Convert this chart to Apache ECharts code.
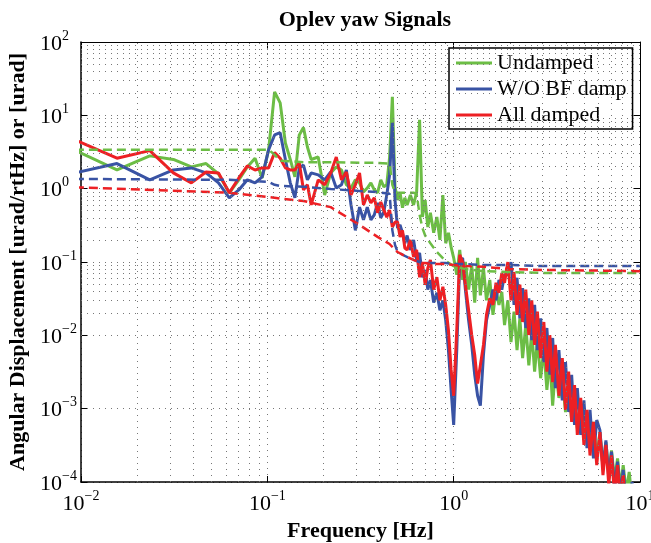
<!DOCTYPE html>
<html>
<head>
<meta charset="utf-8">
<title>Oplev yaw Signals</title>
<script src="https://cdn.jsdelivr.net/npm/echarts@6/dist/echarts.min.js"></script>
<style>
  html, body { margin: 0; padding: 0; background: #fff; }
  #chart { width: 651px; height: 543px; }
</style>
</head>
<body>
<div id="chart"></div>
<script>
// frequency bins [Hz] shared by the three spectra
var freq = [
  0.0078, 0.0156, 0.0234, 0.0313, 0.0391, 0.0469, 0.0547, 0.0625, 0.0703, 0.0781,
  0.0859, 0.0938, 0.1016, 0.1094, 0.1172, 0.125, 0.1328, 0.1406, 0.1484, 0.1563,
  0.1641, 0.1719, 0.1875, 0.2031, 0.2188, 0.2344, 0.25, 0.2656, 0.2813, 0.2969,
  0.3125, 0.3281, 0.3438, 0.3594, 0.375, 0.3906, 0.4063, 0.4219, 0.4375, 0.4531,
  0.4688, 0.4844, 0.5, 0.5156, 0.5313, 0.5469, 0.5625, 0.5859, 0.6094, 0.6328,
  0.6563, 0.6797, 0.7031, 0.7266, 0.75, 0.7813, 0.8125, 0.8438, 0.875, 0.9063,
  0.9375, 0.9688, 1.0, 1.039, 1.078, 1.117, 1.156, 1.203, 1.25, 1.297,
  1.344, 1.391, 1.445, 1.5, 1.563, 1.625, 1.688, 1.75, 1.813, 1.875,
  1.953, 2.031, 2.109, 2.188, 2.266, 2.344, 2.438, 2.531, 2.625, 2.719,
  2.813, 2.93, 3.047, 3.164, 3.281, 3.398, 3.516, 3.672, 3.828, 3.984,
  4.141, 4.297, 4.453, 4.609, 4.805, 5.0, 5.195, 5.391, 5.625, 5.859,
  6.094, 6.328, 6.563, 6.797, 7.031, 7.305, 7.578, 7.852, 8.125, 8.438,
  8.75, 9.063, 9.375, 9.688, 10.0
]

// spectra [urad/rtHz]
var undamped = [
  4.1, 1.8, 2.8, 2.5, 1.98, 2.2, 1.59, 0.88, 1.32, 1.98,
  2.6, 1.4, 3.4, 20.9, 14.8, 4.2, 2.5, 1.45, 5.4, 6.8,
  3.7, 2.5, 2.7, 0.82, 1.64, 1.98, 1.8, 1.13, 1.02, 1.32,
  1.2, 0.9, 1.02, 1.2, 0.96, 0.88, 1.32, 1.06, 1.13, 2.7,
  17.9, 1.06, 0.7, 0.88, 0.55, 0.75, 0.6, 0.82, 0.6, 0.9,
  8.7, 0.41, 0.7, 0.3, 0.47, 0.25, 0.41, 0.2, 0.82, 0.18,
  0.25, 0.16, 0.114, 0.067, 0.146, 0.057, 0.1, 0.042, 0.091, 0.028,
  0.114, 0.035, 0.083, 0.03, 0.057, 0.019, 0.042, 0.026, 0.039, 0.0138,
  0.03, 0.0081, 0.021, 0.0063, 0.017, 0.0049, 0.0138, 0.0039, 0.0111, 0.0032,
  0.0086, 0.0026, 0.0067, 0.0018, 0.0049, 0.0011, 0.0036, 0.0014, 0.0026, 0.0009,
  0.0019, 0.0007, 0.0015, 0.00054, 0.0012, 0.0004, 0.0009, 0.00029, 0.00066, 0.00021,
  0.00048, 0.00016, 0.00035, 0.00013, 0.00027, 0.000106, 0.00021, 0.000083, 0.00017, 0.000073,
  0.000137, 0.000057, 0.000091, 0.000044, 0.00006
]
var woBfDamp = [
  1.49, 2.2, 1.32, 1.8, 1.92, 1.64, 1.2, 0.75, 0.96, 1.32,
  1.2, 1.45, 3.4, 5.4, 5.8, 2.5, 1.2, 0.75, 1.92, 2.1,
  1.32, 1.64, 1.54, 1.32, 1.69, 1.02, 1.13, 1.8, 0.6, 0.27,
  0.56, 0.375, 0.56, 0.375, 0.44, 0.64, 0.4, 0.48, 0.82, 1.54,
  7.9, 0.7, 0.29, 0.32, 0.25, 0.18, 0.23, 0.146, 0.2, 0.107,
  0.133, 0.062, 0.078, 0.042, 0.057, 0.028, 0.038, 0.022, 0.03, 0.016,
  0.0063, 0.0018, 0.0006, 0.0063, 0.1, 0.114, 0.042, 0.016, 0.0074, 0.0029,
  0.0015, 0.0011, 0.0054, 0.016, 0.026, 0.042, 0.03, 0.057, 0.042, 0.067,
  0.067, 0.1, 0.026, 0.061, 0.017, 0.044, 0.0126, 0.032, 0.0086, 0.026,
  0.0063, 0.017, 0.0043, 0.0126, 0.0029, 0.0092, 0.0019, 0.0063, 0.0013, 0.0043,
  0.0009, 0.0029, 0.0006, 0.0019, 0.00044, 0.0013, 0.00029, 0.00096, 0.00021, 0.0007,
  0.00051, 0.000155, 0.00037, 0.000113, 0.00026, 0.000083, 0.00019, 0.000066, 0.000146, 0.000053,
  0.000044, 0.0001, 0.000035, 0.000066, 0.00003
]
var allDamped = [
  5.6, 2.6, 3.3, 1.64, 1.2, 1.69, 1.64, 0.88, 1.4, 2.05,
  1.8, 1.92, 1.92, 3.1, 2.6, 1.92, 1.8, 1.8, 2.25, 0.96,
  1.13, 0.6, 1.32, 1.13, 1.64, 2.7, 1.32, 1.69, 0.82, 1.13,
  1.64, 0.6, 0.82, 0.64, 0.75, 0.47, 0.66, 0.51, 0.41, 0.51,
  0.3, 0.35, 0.35, 0.22, 0.27, 0.155, 0.146, 0.2, 0.117, 0.146,
  0.062, 0.097, 0.049, 0.083, 0.107, 0.042, 0.062, 0.03, 0.046, 0.026,
  0.0118, 0.0034, 0.0015, 0.0118, 0.125, 0.1, 0.049, 0.022, 0.0101, 0.0054,
  0.0022, 0.0039, 0.0074, 0.019, 0.032, 0.026, 0.052, 0.038, 0.071, 0.052,
  0.1, 0.03, 0.073, 0.019, 0.049, 0.0152, 0.042, 0.0101, 0.03, 0.0074,
  0.021, 0.0049, 0.0152, 0.0032, 0.0101, 0.0023, 0.0074, 0.0015, 0.0049, 0.00096,
  0.0032, 0.00066, 0.0021, 0.00044, 0.0014, 0.00032, 0.00096, 0.00023, 0.00066, 0.00017,
  0.00048, 0.000124, 0.00032, 0.000091, 0.00023, 0.000066, 0.00017, 0.000057, 0.000124, 0.000041,
  0.000083, 0.000035, 0.000057, 0.00003, 0.000041
]

// cumulative rms [urad] (dashed)
var rmsFreq = [
  0.0078, 0.0625, 0.1016, 0.1094, 0.1172, 0.1563, 0.2188, 0.3125, 0.3906, 0.4531,
  0.4688, 0.4844, 0.5, 0.5469, 0.6094, 0.6328, 0.6563, 0.6797, 0.7031, 0.75,
  0.8125, 0.9063, 1.0, 1.156, 1.445, 1.953, 3.0, 10.0
]
var rmsUndamped = [
  3.4, 3.4, 3.4, 2.9, 2.4, 2.3, 2.3, 2.25, 2.25, 2.2,
  1.13, 0.88, 0.88, 0.88, 0.88, 0.85, 0.44, 0.29, 0.23, 0.18,
  0.137, 0.103, 0.088, 0.08, 0.075, 0.073, 0.071, 0.071
]
var rmsWoBfDamp = [
  1.36, 1.32, 1.24, 1.13, 1.09, 1.06, 0.99, 0.93, 0.9, 0.85,
  0.27, 0.171, 0.137, 0.121, 0.107, 0.103, 0.1, 0.1, 0.097, 0.097,
  0.097, 0.097, 0.094, 0.094, 0.091, 0.091, 0.088, 0.088
]
var rmsAllDamped = [
  1.06, 0.88, 0.77, 0.75, 0.73, 0.68, 0.56, 0.32, 0.22, 0.176,
  0.16, 0.146, 0.137, 0.121, 0.107, 0.103, 0.1, 0.097, 0.097, 0.094,
  0.094, 0.094, 0.091, 0.088, 0.086, 0.08, 0.078, 0.075
]

var names = ['Undamped', 'W/O BF damp', 'All damped']
var colors = ['#6cbd45', '#3953a4', '#ed2024']
var SERIF = 'Liberation Serif, Times New Roman, serif'

function pairs (xs, ys) {
  return xs.map(function (x, i) { return [x, ys[i]] })
}

// minor grid at 2..9 x 10^k, like matlab's minor grid
function minorGrid (lo, hi) {
  var out = []
  for (var k = lo; k < hi; k++) {
    for (var m = 2; m <= 9; m++) out.push(+(m * Math.pow(10, k)).toPrecision(2))
  }
  return out
}

function powLabel (v) {
  var e = Math.round(Math.log10(v))
  return '{b|10}{e|' + (e < 0 ? '\u2212' + (-e) : e) + '}'
}

var labelRich = {
  b: { fontFamily: SERIF, fontSize: 22, color: '#000', verticalAlign: 'bottom', padding: [4, 0, 0, 0] },
  e: { fontFamily: SERIF, fontSize: 14, color: '#000', verticalAlign: 'top' }
}
var dotted = { type: [1, 5], color: '#777', width: 1 }

function solid (i, data) {
  return {
    name: names[i], type: 'line', data: pairs(freq, data),
    smooth: false, symbol: 'none', showSymbol: false, z: 3,
    lineStyle: { color: colors[i], width: 3 },
    itemStyle: { color: colors[i] }
  }
}
function dashed (i, data) {
  return {
    name: names[i] + ' rms', type: 'line', data: pairs(rmsFreq, data),
    smooth: false, symbol: 'none', showSymbol: false, z: 4,
    lineStyle: { color: colors[i], width: 2.5, type: [9, 5] },
    itemStyle: { color: colors[i] }
  }
}

var gridLines = []
minorGrid(-2, 1).forEach(function (v) { gridLines.push({ xAxis: v }) })
minorGrid(-4, 2).forEach(function (v) { gridLines.push({ yAxis: v }) })

var option = {
  animation: false,
  backgroundColor: '#fff',
  title: {
    text: 'Oplev yaw Signals',
    left: 360, top: 4, textAlign: 'center',
    textStyle: { fontFamily: SERIF, fontSize: 22, fontWeight: 'bold', color: '#000' }
  },
  legend: {
    data: names,
    orient: 'vertical',
    left: 449, top: 48,
    icon: 'rect', itemWidth: 36, itemHeight: 3, itemGap: 4,
    padding: [4, 6, 3, 7],
    backgroundColor: '#fff', borderColor: '#000', borderWidth: 1.5,
    textStyle: { fontFamily: SERIF, fontSize: 22, color: '#000', lineHeight: 22 }
  },
  grid: { left: 81, right: 11, top: 42, bottom: 61, containLabel: false, outerBoundsMode: 'none' },
  xAxis: [{
    type: 'log', logBase: 10, min: 0.01, max: 10, splitNumber: 3,
    position: 'bottom',
    name: 'Frequency [Hz]', nameLocation: 'middle', nameGap: 29,
    nameTextStyle: { fontFamily: SERIF, fontSize: 22, fontWeight: 'bold', color: '#000' },
    axisLine: { lineStyle: { color: '#000', width: 1.5 } },
    axisTick: { inside: true, length: 6, lineStyle: { color: '#000' } },
    axisLabel: { margin: 7, formatter: powLabel, rich: labelRich },
    splitLine: { show: true, lineStyle: dotted }
  }, {
    type: 'log', logBase: 10, min: 0.01, max: 10, splitNumber: 3,
    position: 'top',
    axisLine: { lineStyle: { color: '#000', width: 1 } },
    axisTick: { inside: true, length: 6, lineStyle: { color: '#000' } },
    axisLabel: { show: false },
    splitLine: { show: false }
  }],
  yAxis: [{
    type: 'log', logBase: 10, min: 1e-4, max: 100, splitNumber: 6,
    position: 'left',
    name: 'Angular Displacement [urad/rtHz] or [urad]',
    nameLocation: 'middle', nameGap: 45,
    nameTextStyle: { fontFamily: SERIF, fontSize: 22, fontWeight: 'bold', color: '#000' },
    axisLine: { lineStyle: { color: '#000', width: 1.5 } },
    axisTick: { inside: true, length: 6, lineStyle: { color: '#000' } },
    axisLabel: { margin: 41, align: 'left', formatter: powLabel, rich: labelRich },
    splitLine: { show: true, lineStyle: dotted }
  }, {
    type: 'log', logBase: 10, min: 1e-4, max: 100, splitNumber: 6,
    position: 'right',
    axisLine: { lineStyle: { color: '#000', width: 1 } },
    axisTick: { inside: true, length: 6, lineStyle: { color: '#000' } },
    axisLabel: { show: false },
    splitLine: { show: false }
  }],
  series: [
    {
      name: 'grid', type: 'line', data: [], z: 1, silent: true,
      markLine: {
        silent: true, symbol: ['none', 'none'], animation: false,
        label: { show: false },
        lineStyle: dotted,
        emphasis: { disabled: true },
        data: gridLines
      }
    },
    solid(0, undamped),
    solid(1, woBfDamp),
    solid(2, allDamped),
    dashed(0, rmsUndamped),
    dashed(1, rmsWoBfDamp),
    dashed(2, rmsAllDamped)
  ]
}

var chart = echarts.init(document.getElementById('chart'))
chart.setOption(option)
</script>
</body>
</html>
